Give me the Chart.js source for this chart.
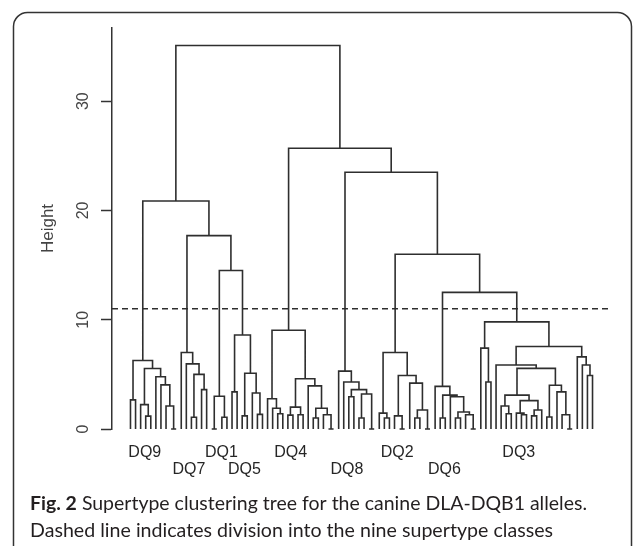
<!DOCTYPE html>
<html><head><meta charset="utf-8">
<script src="https://cdn.jsdelivr.net/npm/chart.js@4.4.1/dist/chart.umd.min.js"></script>
<style>html,body{margin:0;padding:0;background:#fff;}canvas{display:block;}</style>
</head><body>
<canvas id="c" width="633" height="546"></canvas>
<script>
// ---- data ----
const o = null; // a leaf (allele)
const clusterNames = ["DQ9","DQ7","DQ1","DQ5","DQ4","DQ8","DQ2","DQ6","DQ3"];
const labelRow    = [0,1,0,1,0,1,0,1,0];
// each subtree: [mergeHeight, left, right]
const DQ9 = [6.27, [2.67, o, o], [5.54, [2.23, o, [1.18, o, o]], [4.78, o, [4.04, o, [2.1, o, [0, o, o]]]]]];
const DQ7 = [7.0, o, [5.96, o, [5.0, [1.08, o, o], [3.6, o, o]]]];
const DQ1 = [3.0, [0, o, o], [1.08, o, o]];
const DQ5 = [8.6, [3.4, o, o], [5.1, [1.2, o, o], [3.3, o, [1.34, o, o]]]];
const DQ4 = [9.04, [2.77, o, [1.9, o, [1.4, o, o]]], [4.6, [2.0, [1.27, o, o], [1.3, o, o]], [3.95, o, [1.9, [1.0, o, o], [1.3, o, [0, o, o]]]]]];
const DQ8 = [5.3, o, [4.3, o, [3.6, [2.95, o, o], [3.2, [1.0, o, o], [0, o, o]]]]];
const DQ2 = [7.0, [1.45, o, [1.0, o, o]], [4.9, [1.2, o, [0, o, o]], [4.2, o, [1.74, [1.0, o, o], [0, o, o]]]]];
const DQ6 = [3.9, o, [3.1, [1.0, o, o], [2.95, o, [1.55, [1.0, o, o], [1.3, o, [0, o, o]]]]]];
const DQ3 = [9.8, [7.4, o, [4.3, o, o]], [7.55, [5.86, o, [5.55, [3.1, [2.1, o, [1.4, o, o]], [2.6, [1.45, o, [1.3, o, o]], [1.74, [1.2, o, o], o]]], [4.0, [1.1, o, o], [3.4, o, [1.3, o, [0, o, o]]]]]], [6.6, o, [5.86, o, [4.9, o, o]]]]];
const upperTree = [35.1, [20.86, "DQ9", [17.7, "DQ7", [14.5, "DQ1", "DQ5"]]],
                         [25.7, "DQ4", [23.5, "DQ8", [16.0, "DQ2", [12.5, "DQ6", "DQ3"]]]]];
const cutHeight = 11;
const yTicks = [0, 10, 20, 30];
const yTop = 36.7;
const yTitle = "Height";
const captionBold = "Fig. 2";
const captionRest = " Supertype clustering tree for the canine DLA-DQB1 alleles.";
const captionLine2 = "Dashed line indicates division into the nine supertype classes";

// ---- dendrogram layout (leaf order, midpoints) ----
const clusters = {DQ9, DQ7, DQ1, DQ5, DQ4, DQ8, DQ2, DQ6, DQ3};
let leafCount = 0;
const segs = [];
const clusterX = {};
function place(node) {
  if (node === null) { leafCount++; return {x: leafCount, h: 0}; }
  if (typeof node === "string") { const r = place(clusters[node]); clusterX[node] = r.x; return r; }
  const [h, a, b] = node;
  const l = place(a), r = place(b);
  segs.push({x: l.x, y: l.h}, {x: l.x, y: h}, {x: r.x, y: h}, {x: r.x, y: r.h}, {x: r.x, y: null});
  return {x: (l.x + r.x) / 2, h: h};
}
place(upperTree);
const N = leafCount;
const xMin = 1 - 0.04 * (N - 1), xMax = N + 0.04 * (N - 1);

const ink = "#2e2e2e";
const decor = {
  id: "decor",
  beforeDraw(chart) {
    const ctx = chart.ctx;
    ctx.save(); ctx.fillStyle = "#fff"; ctx.fillRect(0, 0, chart.width, chart.height); ctx.restore();
  },
  afterDraw(chart) {
    const ctx = chart.ctx, xs = chart.scales.x;
    ctx.save();
    ctx.strokeStyle = "#333"; ctx.lineWidth = 1.5;
    ctx.beginPath(); ctx.roundRect(13.5, 12.5, 618, 600, 14); ctx.stroke();
    ctx.fillStyle = "#262626"; ctx.textAlign = "center"; ctx.textBaseline = "middle";
    ctx.font = '16px "Liberation Sans Narrow", "Liberation Sans", Arial, sans-serif';
    clusterNames.forEach((n, i) => {
      ctx.fillText(n, xs.getPixelForValue(clusterX[n]) + 2, labelRow[i] ? 470 : 453);
    });
    // caption
    ctx.textAlign = "left"; ctx.textBaseline = "alphabetic"; ctx.fillStyle = "#231f20";
    const fB = 'bold 19px Lato, "Open Sans", sans-serif', fR = '19px Lato, "Open Sans", sans-serif';
    ctx.font = fB; const wB = ctx.measureText(captionBold).width;
    ctx.font = fR; const wR = ctx.measureText(captionRest).width;
    const s1 = 557 / (wB + wR);
    ctx.save(); ctx.translate(30, 510); ctx.scale(s1, 1);
    ctx.font = fB; ctx.fillText(captionBold, 0, 0);
    ctx.font = fR; ctx.fillText(captionRest, wB, 0);
    ctx.restore();
    ctx.font = fR;
    const w2 = ctx.measureText(captionLine2).width;
    ctx.save(); ctx.translate(30, 537); ctx.scale(523 / w2, 1);
    ctx.fillText(captionLine2, 0, 0);
    ctx.restore();
    ctx.restore();
  }
};

new Chart(document.getElementById("c"), {
  type: "scatter",
  data: { datasets: [
    { data: segs, showLine: true, borderColor: ink, borderWidth: 1.6, pointRadius: 0, spanGaps: false, clip: false, borderJoinStyle: "miter" },
    { data: [{x: xMin, y: cutHeight}, {x: xMax, y: cutHeight}], showLine: true, borderColor: ink, borderWidth: 1.6, borderDash: [6, 4], pointRadius: 0 }
  ]},
  options: {
    responsive: false, animation: false,
    layout: { padding: { left: 0, top: 28, right: 22, bottom: 117 } },
    plugins: { legend: { display: false }, tooltip: { enabled: false } },
    scales: {
      x: { type: "linear", min: xMin, max: xMax, display: false },
      y: {
        type: "linear", position: "left", min: 0, max: yTop,
        afterBuildTicks: s => { s.ticks = yTicks.map(v => ({value: v})); },
        afterFit: s => { s.width = 112; s.paddingTop = 0; s.paddingBottom = 0; },
        ticks: { minRotation: 90, maxRotation: 90, crossAlign: "center", padding: 9, color: "#444",
                 font: { family: '"Liberation Sans", Arial, sans-serif', size: 16 } },
        grid: { drawOnChartArea: false, drawTicks: true, tickLength: 11, tickColor: "#333", tickWidth: 1.5 },
        border: { display: true, color: "#333", width: 1.5 },
        title: { display: true, text: yTitle, color: "#444", padding: { top: 38, bottom: 0 },
                 font: { family: '"Liberation Sans", Arial, sans-serif', size: 17 } }
      }
    }
  },
  plugins: [decor]
});
</script>
</body></html>
